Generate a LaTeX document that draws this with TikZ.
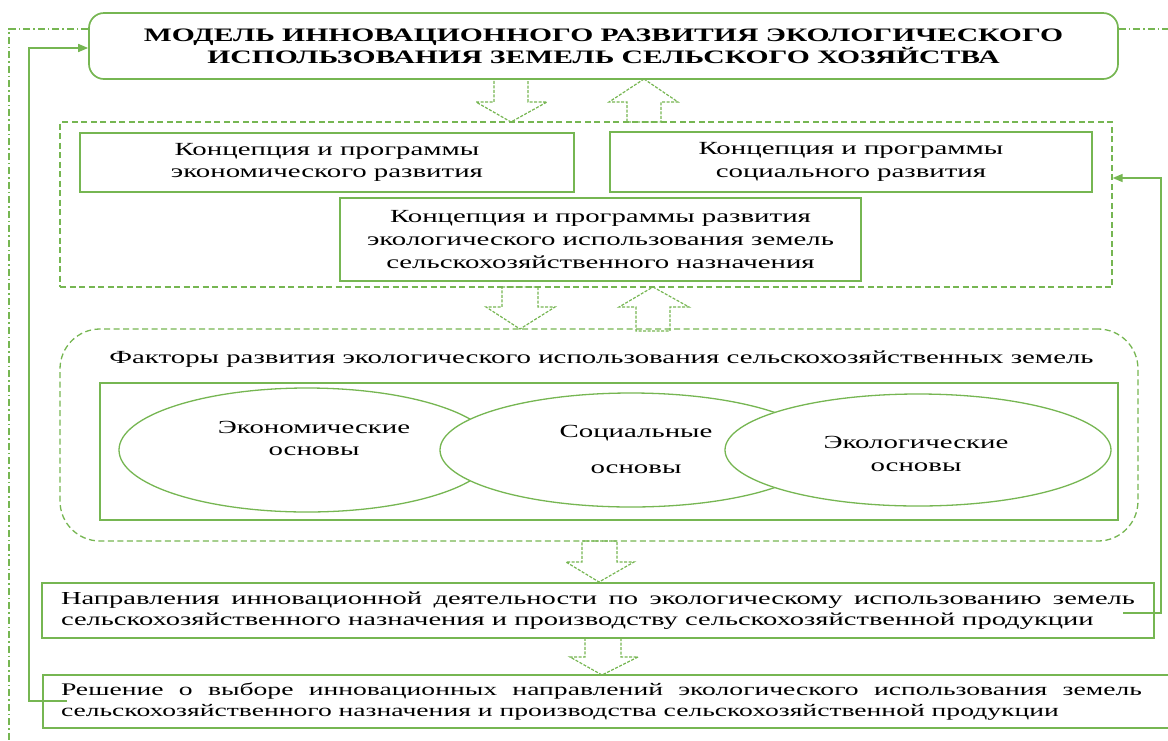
\documentclass[tikz,border=0pt]{standalone}
\usepackage{fontspec}
\setmainfont{Liberation Serif}[FakeStretch=1.56]
\usetikzlibrary{shapes.geometric,arrows.meta,calc}
\definecolor{gr}{RGB}{118,182,82}
\begin{document}
\begin{tikzpicture}[x=1pt,y=-1pt,
  box/.style={draw=gr, line width=1.7pt, inner sep=0pt, align=center},
  dbox/.style={draw=gr, line width=1.3pt, dash pattern=on 6pt off 3.5pt, inner sep=0pt},
  harrow/.style={draw=gr, line width=1.2pt, dash pattern=on 3pt off 1.5pt, line join=miter},
  conn/.style={draw=gr, line width=1.6pt, -{Triangle[length=10pt,width=8pt]}},
  dashdot/.style={draw=gr, line width=1.2pt, dash pattern=on 7pt off 3pt on 1.5pt off 3pt},
  txt/.style={font=\fontsize{18.5}{22.5}\selectfont, align=center, inner sep=0pt},
  ell/.style={ellipse, draw=gr, line width=1.3pt, fill=white, inner sep=0pt}
]
\useasboundingbox (0,0) rectangle (1168,740);

% title
\node[box, rounded corners=15pt, minimum width=1029pt, minimum height=66pt,
  font=\bfseries\fontsize{19}{22}\selectfont] (title) at (603.5,46)
  {МОДЕЛЬ ИННОВАЦИОННОГО РАЗВИТИЯ ЭКОЛОГИЧЕСКОГО\\ИСПОЛЬЗОВАНИЯ ЗЕМЕЛЬ СЕЛЬСКОГО ХОЗЯЙСТВА};

% dash-dot frame
\coordinate (dl) at (9,29);
\coordinate (dlb) at (9,740);
\coordinate (dr) at (1168,29);
\draw[dashdot] (title.west |- dl) -- (dl) -- (dlb);
\draw[dashdot] (title.east |- dr) -- (dr);

% concept group
\node[dbox, minimum width=1052pt, minimum height=165pt] (grp) at (586,204.5) {};
\node[box, txt, minimum width=494pt, minimum height=59pt] (econ) at (327,162.5)
  {Концепция и программы\\экономического развития};
\node[box, txt, minimum width=482pt, minimum height=60pt] (soc) at (851,162)
  {Концепция и программы\\социального развития};
\node[box, txt, font=\fontsize{18.5}{23}\selectfont, minimum width=521pt, minimum height=83pt] (eco) at (600.5,239.5)
  {Концепция и программы развития\\экологического использования земель\\сельскохозяйственного назначения};

% hollow arrows
\draw[harrow] (494,79) -- (528,79) -- (528,102) -- (547,102) -- (511,122) -- (476,102) -- (494,102) -- cycle;
\draw[harrow] (644,79) -- (678,102) -- (661,102) -- (661,122) -- (627,122) -- (627,102) -- (609,102) -- cycle;
\draw[harrow] (502,287) -- (538,287) -- (538,307) -- (555,307) -- (520,329) -- (486,307) -- (502,307) -- cycle;
\draw[harrow] (653,287) -- (689,307) -- (670,307) -- (670,331) -- (636,331) -- (636,307) -- (619,307) -- cycle;
\draw[harrow] (582,541) -- (617,541) -- (617,562) -- (634,562) -- (599,582) -- (566,562) -- (582,562) -- cycle;
\draw[harrow] (585,638) -- (621,638) -- (621,657) -- (638,657) -- (602,675) -- (570,657) -- (585,657) -- cycle;

% factors
\node[dbox, rounded corners=40pt, minimum width=1078pt, minimum height=212pt] (fac) at (599,435) {};
\node[txt] (factitle) at (601.5,359)
  {Факторы развития экологического использования сельскохозяйственных земель};
\node[box, minimum width=1018pt, minimum height=137pt] (inner) at (609,451.5) {};
\node[ell, minimum width=376pt, minimum height=124pt] (e1) at (307,450) {};
\node[ell, minimum width=382pt, minimum height=114pt] (e2) at (631,450) {};
\node[ell, minimum width=386pt, minimum height=112pt] (e3) at (918,450) {};
\node[txt] (t1) at (314,438.5) {Экономические\\основы};
\node[txt] (t2) at (636,449.5) {Социальные\\[13pt]основы};
\node[txt] (t3) at (916,454) {Экологические\\основы};

% directions
\node[box, font=\fontsize{18.3}{21}\selectfont, text width=1074pt, inner xsep=19pt, inner ysep=0pt,
  minimum height=55pt, align=justify] (napr) at (598,610.5)
  {Направления инновационной деятельности по экологическому использованию земель\linebreak
   сельскохозяйственного назначения и производству сельскохозяйственной продукции};

% decision
\node[box, minimum width=1132pt, minimum height=53pt] (reshbox) at (609,701.5) {};
\node[font=\fontsize{17.7}{20.5}\selectfont, text width=1081pt, align=justify, inner sep=0pt] (resh) at (601.5,701.5)
  {Решение о выборе инновационных направлений экологического использования земель\linebreak
   сельскохозяйственного назначения и производства сельскохозяйственной продукции};

% feedback connectors
\coordinate (ls) at (67,701);
\coordinate (lc) at (29,701);
\draw[conn] (ls) -- (lc) |- ($(title.west)+(0,2)$);
\coordinate (rs) at (1123,613);
\coordinate (rt) at (1161,178);
\draw[conn] (rs) -| (rt) -- (grp.east |- rt);
\end{tikzpicture}
\end{document}
